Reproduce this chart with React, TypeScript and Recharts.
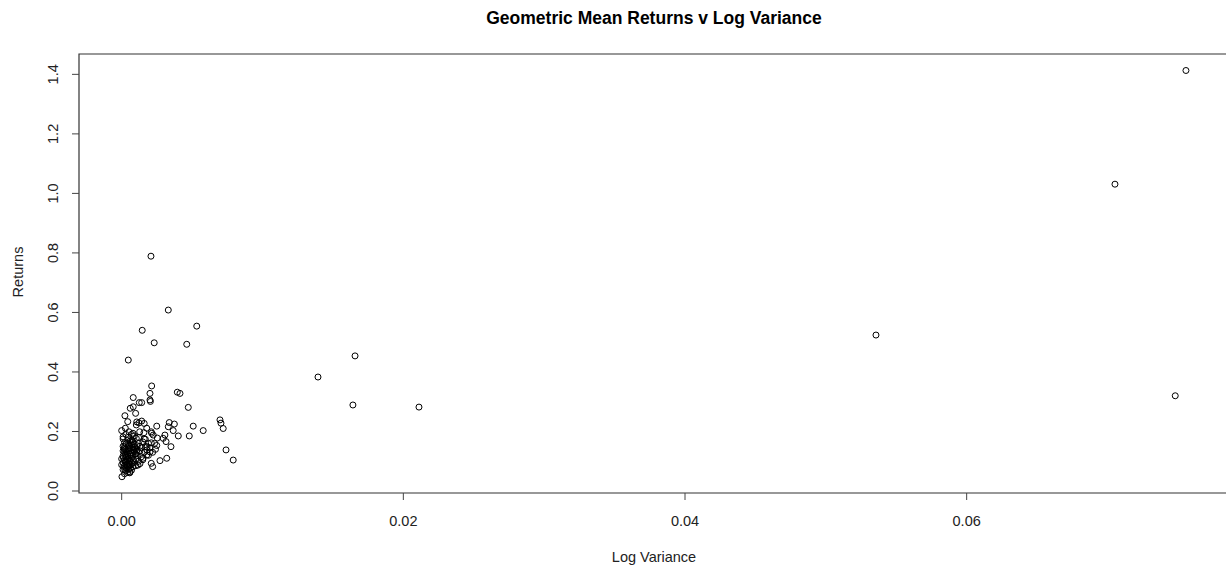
import { ReferenceArea, Scatter, ScatterChart, XAxis, YAxis } from 'recharts';

// scattered points (outliers and the fringe of the cluster)
const sparseVariance = [
  0.07557, 0.07053, 0.07481, 0.05356, 0.01657, 0.01394, 0.01642, 0.02111, 0.00208, 0.00331,
  0.00533, 0.00146, 0.00231, 0.00462, 0.00047, 0.00213, 0.00201, 0.00201, 0.00204, 0.00395,
  0.00414, 0.00082, 0.00125, 0.00142, 0.00082, 0.00473, 0.00099, 0.00023, 0.00043, 0.00107,
  0.00142, 0.0016, 0.00178, 0.00249, 0.00338, 0.00374, 0.00331, 0.00508, 0.00579, 0.00698,
  0.00705, 0.00721, 0.00366, 0.00307, 0.00402, 0.0048, 0.00295, 0.00315, 0.00249, 0.0035,
  0.00741, 0.00792, 0.0032, 0.00272, 0.0022, 0.00213, 0.00224, 0.00178, 0.0021, 0.00234,
  0.00168, 0.00253, 0.0021, 0.00151, 0.00116, 0.00057, 0.00002, 0.00201, 0.0018, 0.00061,
  0.00123, 0.00104, 0.00026, 0.0, 0.00052, 0.0008, 0.00128, 0.00158, 0.0021, 0.0001,
  0.00045, 0.00073, 0.00104,
];
const sparseReturns = [
  1.413, 1.031, 0.32, 0.524, 0.454, 0.383, 0.289, 0.282, 0.789, 0.608,
  0.554, 0.54, 0.498, 0.493, 0.44, 0.353, 0.328, 0.306, 0.301, 0.332,
  0.328, 0.314, 0.297, 0.297, 0.283, 0.281, 0.261, 0.253, 0.233, 0.232,
  0.235, 0.227, 0.211, 0.218, 0.23, 0.225, 0.216, 0.218, 0.203, 0.239,
  0.228, 0.21, 0.203, 0.188, 0.185, 0.185, 0.177, 0.166, 0.153, 0.149,
  0.138, 0.104, 0.11, 0.102, 0.082, 0.194, 0.188, 0.121, 0.162, 0.16,
  0.174, 0.178, 0.093, 0.11, 0.087, 0.061, 0.048, 0.131, 0.148, 0.278,
  0.229, 0.222, 0.211, 0.203, 0.199, 0.194, 0.199, 0.196, 0.199, 0.182,
  0.18, 0.171, 0.177,
];

// dense cluster near zero variance
const clusterVariance = [
  0.0001, 0.0002, 0.0001, 0.0003, 0.0002, 0.0004, 0.0003, 0.0005, 0.0004, 0.0006,
  0.0005, 0.0007, 0.0006, 0.0008, 0.0007, 0.0009, 0.0008, 0.001, 0.0011, 0.0012,
  0.0002, 0.0001, 0.0003, 0.0001, 0.0002, 0.0004, 0.0, 0.0, 0.0003, 0.0005,
  0.0006, 0.0007, 0.0009, 0.001, 0.0011, 0.0013, 0.0014, 0.0012, 0.0008, 0.0005,
  0.0004, 0.0006, 0.0009, 0.001, 0.0003, 0.0002, 0.0005, 0.0006, 0.0008, 0.0011,
  0.0013, 0.0015, 0.0016, 0.0014, 0.0017, 0.0018, 0.0012, 0.0009, 0.0007, 0.0003,
  0.0001, 0.0001, 0.0002, 0.0004, 0.0006, 0.0002, 0.001, 0.0013, 0.0015, 0.0019,
  0.002, 0.0016, 0.0019, 0.0022, 0.0024,
  0.00015, 0.00025, 0.00035, 0.00045, 0.00055, 0.00065, 0.00075, 0.00085, 0.00095, 0.00105,
  0.00012, 0.00028, 0.00038, 0.00048, 0.00058, 0.00068, 0.00078, 0.00088, 0.00018, 0.00032,
  0.00042, 0.00062, 0.00072, 0.00082, 0.00022, 0.00052,
];
const clusterReturns = [
  0.072, 0.085, 0.095, 0.078, 0.105, 0.092, 0.115, 0.083, 0.125, 0.098,
  0.135, 0.11, 0.145, 0.12, 0.155, 0.132, 0.165, 0.142, 0.152, 0.16,
  0.128, 0.118, 0.14, 0.15, 0.162, 0.17, 0.108, 0.088, 0.068, 0.075,
  0.088, 0.07, 0.095, 0.108, 0.12, 0.135, 0.145, 0.1, 0.082, 0.11,
  0.103, 0.122, 0.148, 0.125, 0.098, 0.138, 0.158, 0.168, 0.14, 0.138,
  0.15, 0.165, 0.13, 0.115, 0.15, 0.138, 0.18, 0.185, 0.19, 0.19,
  0.175, 0.135, 0.148, 0.082, 0.064, 0.058, 0.085, 0.092, 0.105, 0.12,
  0.145, 0.175, 0.16, 0.13, 0.14,
  0.082, 0.098, 0.088, 0.118, 0.102, 0.128, 0.116, 0.138, 0.125, 0.134,
  0.112, 0.122, 0.132, 0.142, 0.152, 0.162, 0.148, 0.158, 0.142, 0.158,
  0.062, 0.076, 0.092, 0.104, 0.072, 0.09,
];

const xTicks = [0, 0.02, 0.04, 0.06];
const yTicks = [0, 0.2, 0.4, 0.6, 0.8, 1.0, 1.2, 1.4];

const points = [
  ...sparseVariance.map((v, i) => ({ variance: v, returns: sparseReturns[i] })),
  ...clusterVariance.map((v, i) => ({ variance: v, returns: clusterReturns[i] })),
];

const X_DOMAIN: [number, number] = [-0.00303, 0.07884];
const Y_DOMAIN: [number, number] = [-0.0067, 1.4684];
const FONT = '"Liberation Sans", Arial, sans-serif';

function XTick({ x, y, payload }: any) {
  return (
    <text x={x} y={y + 24} textAnchor="middle" fontFamily={FONT} fontSize={14.5} fill="#222">
      {payload.value.toFixed(2)}
    </text>
  );
}

function YTick({ y, payload }: any) {
  return (
    <text
      transform={`translate(58, ${y}) rotate(-90)`}
      textAnchor="middle"
      fontFamily={FONT}
      fontSize={14.5}
      fill="#222"
    >
      {payload.value.toFixed(1)}
    </text>
  );
}

function Ring({ cx, cy }: any) {
  return <circle cx={cx} cy={cy} r={3} fill="none" stroke="#000" strokeWidth={1} />;
}

export default function App() {
  return (
    <div
      style={{
        position: 'absolute',
        left: 0,
        top: 0,
        width: 1226,
        height: 566,
        overflow: 'hidden',
        background: '#fff',
        fontFamily: FONT,
      }}
    >
      <div
        style={{
          position: 'absolute',
          left: 79,
          width: 1150,
          top: 8,
          textAlign: 'center',
          fontWeight: 'bold',
          fontSize: 17.5,
          color: '#000',
        }}
      >
        Geometric Mean Returns v Log Variance
      </div>
      <div
        style={{
          position: 'absolute',
          left: 79,
          width: 1150,
          top: 549,
          textAlign: 'center',
          fontSize: 14.5,
          color: '#222',
        }}
      >
        Log Variance
      </div>
      <div
        style={{
          position: 'absolute',
          left: 18,
          top: 272,
          transform: 'translate(-50%, -50%) rotate(-90deg)',
          fontSize: 14.5,
          color: '#222',
          whiteSpace: 'nowrap',
        }}
      >
        Returns
      </div>
      <ScatterChart width={1232} height={566} margin={{ top: 54, right: 0, bottom: 0, left: 0 }}>
        <XAxis
          type="number"
          dataKey="variance"
          domain={X_DOMAIN}
          ticks={xTicks}
          allowDataOverflow
          height={73}
          axisLine={false}
          tickLine={{ stroke: '#444' }}
          tickSize={7}
          tick={<XTick />}
          interval={0}
        />
        <YAxis
          type="number"
          dataKey="returns"
          domain={Y_DOMAIN}
          ticks={yTicks}
          allowDataOverflow
          width={79}
          axisLine={false}
          tickLine={{ stroke: '#444' }}
          tickSize={7}
          tick={<YTick />}
          interval={0}
        />
        <ReferenceArea
          x1={X_DOMAIN[0]}
          x2={X_DOMAIN[1]}
          y1={Y_DOMAIN[0]}
          y2={Y_DOMAIN[1]}
          fill="none"
          fillOpacity={0}
          stroke="#333"
          strokeWidth={1.2}
          ifOverflow="visible"
        />
        <Scatter data={points} shape={<Ring />} isAnimationActive={false} />
      </ScatterChart>
    </div>
  );
}
